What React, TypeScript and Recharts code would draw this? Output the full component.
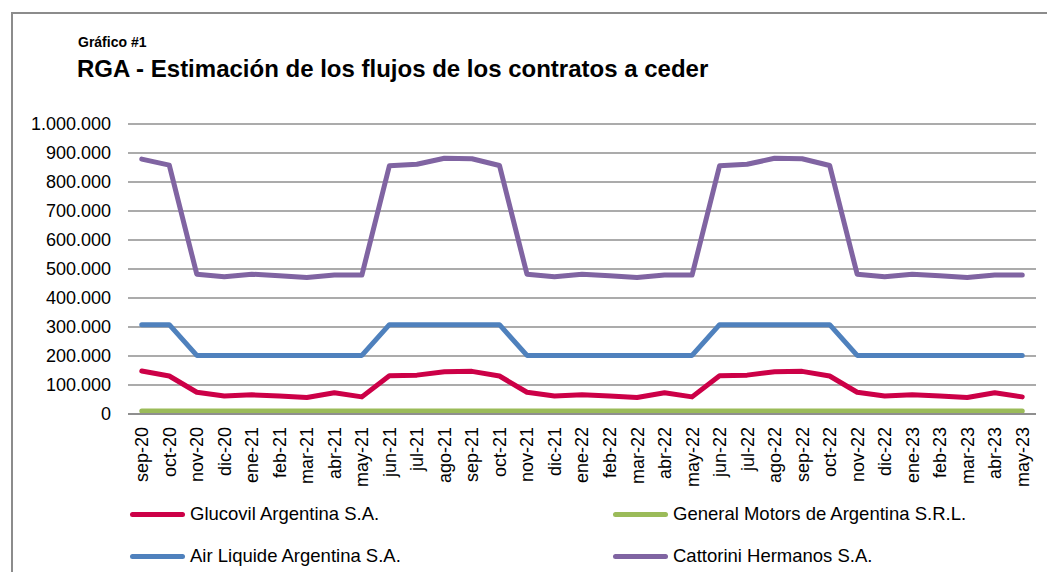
import React from 'react';
import { LineChart, Line, XAxis, YAxis, CartesianGrid } from 'recharts';

const months = ['sep-20','oct-20','nov-20','dic-20','ene-21','feb-21','mar-21','abr-21','may-21','jun-21','jul-21','ago-21','sep-21','oct-21','nov-21','dic-21','ene-22','feb-22','mar-22','abr-22','may-22','jun-22','jul-22','ago-22','sep-22','oct-22','nov-22','dic-22','ene-23','feb-23','mar-23','abr-23','may-23'];

const glucovil = [148000,131000,75000,62000,66000,62000,57000,73000,59000,132000,134000,146000,147000,131000,75000,62000,66000,62000,57000,73000,59000,132000,134000,146000,147000,131000,75000,62000,66000,62000,57000,73000,59000];
const generalMotors = [10000,10000,10000,10000,10000,10000,10000,10000,10000,10000,10000,10000,10000,10000,10000,10000,10000,10000,10000,10000,10000,10000,10000,10000,10000,10000,10000,10000,10000,10000,10000,10000,10000];
const airLiquide = [308000,308000,202000,202000,202000,202000,202000,202000,202000,308000,308000,308000,308000,308000,202000,202000,202000,202000,202000,202000,202000,308000,308000,308000,308000,308000,202000,202000,202000,202000,202000,202000,202000];
const cattorini = [879000,858000,482000,473000,482000,477000,471000,479000,479000,856000,861000,882000,880000,857000,482000,473000,482000,477000,471000,479000,479000,856000,861000,882000,880000,857000,482000,473000,482000,477000,471000,479000,479000];

const yTicks = [0,100000,200000,300000,400000,500000,600000,700000,800000,900000,1000000];

const series = [
  { key: 'glucovil', name: 'Glucovil Argentina S.A.', color: '#CC0047', values: glucovil },
  { key: 'gm', name: 'General Motors de Argentina S.R.L.', color: '#9BBB59', values: generalMotors },
  { key: 'air', name: 'Air Liquide Argentina S.A.', color: '#4F81BD', values: airLiquide },
  { key: 'cattorini', name: 'Cattorini Hermanos S.A.', color: '#8064A2', values: cattorini },
];

const data = months.map((m, i) => {
  const row: any = { month: m };
  series.forEach(s => { row[s.key] = s.values[i]; });
  return row;
});

const fmt = (v: number) => String(v).replace(/\B(?=(\d{3})+(?!\d))/g, '.');

const FONT = '"Liberation Sans", Arial, sans-serif';

const XTick = (props: any) => {
  const { x, y, payload } = props;
  return (
    <g transform={`translate(${x},${y})`}>
      <text transform="rotate(-90)" x={-13} y={0} dy="0.36em" textAnchor="end" fill="#000" fontSize={18} fontFamily={FONT}>
        {payload.value}
      </text>
    </g>
  );
};

const legendPos = [
  { left: 130, top: 514 },
  { left: 613, top: 514 },
  { left: 130, top: 556 },
  { left: 613, top: 556 },
];

export default function App() {
  return (
    <div style={{ position: 'absolute', left: 0, top: 0, width: 1047, height: 572, overflow: 'hidden', background: '#fff', fontFamily: FONT }}>
      <div style={{ position: 'absolute', left: 11, top: 12, width: 1200, height: 800, border: '2px solid #8c8c8c', boxSizing: 'border-box' }} />
      <div style={{ position: 'absolute', left: 78, top: 34, fontSize: 14, fontWeight: 'bold', lineHeight: '17px', color: '#000', whiteSpace: 'nowrap' }}>Gráfico #1</div>
      <div style={{ position: 'absolute', left: 77, top: 55, fontSize: 24, fontWeight: 'bold', lineHeight: '27px', color: '#000', whiteSpace: 'nowrap' }}>RGA - Estimación de los flujos de los contratos a ceder</div>
      <div style={{ position: 'absolute', left: 0, top: 0 }}>
        <LineChart width={1047} height={572} data={data} margin={{ top: 124, right: 11, bottom: 78, left: 0 }}>
          <CartesianGrid vertical={false} stroke="#8f8f8f" strokeWidth={1.5} />
          <XAxis dataKey="month" interval={0} height={80} tickLine={false} tickSize={0} tickMargin={0}
            padding={{ left: 13.75, right: 13.75 }}
            axisLine={{ stroke: '#8f8f8f', strokeWidth: 2 }} tick={<XTick />} />
          <YAxis width={128} domain={[0, 1000000]} ticks={yTicks} tickFormatter={fmt} axisLine={false}
            tickLine={false} tickSize={0} tickMargin={17}
            tick={{ fill: '#000', fontSize: 18, fontFamily: FONT }} interval={0} />
          {series.map(s => (
            <Line key={s.key} type="linear" dataKey={s.key} name={s.name} stroke={s.color} strokeWidth={5}
              dot={false} activeDot={false} isAnimationActive={false} strokeLinejoin="round" strokeLinecap="round" />
          ))}
        </LineChart>
      </div>
      {series.map((s, i) => (
        <div key={s.key} style={{ position: 'absolute', left: legendPos[i].left, top: legendPos[i].top - 11, height: 22, display: 'flex', alignItems: 'center', whiteSpace: 'nowrap' }}>
          <div style={{ width: 55, height: 5, borderRadius: 3, background: s.color, marginRight: 5 }} />
          <span style={{ fontSize: 18.5, color: '#000' }}>{s.name}</span>
        </div>
      ))}
    </div>
  );
}
